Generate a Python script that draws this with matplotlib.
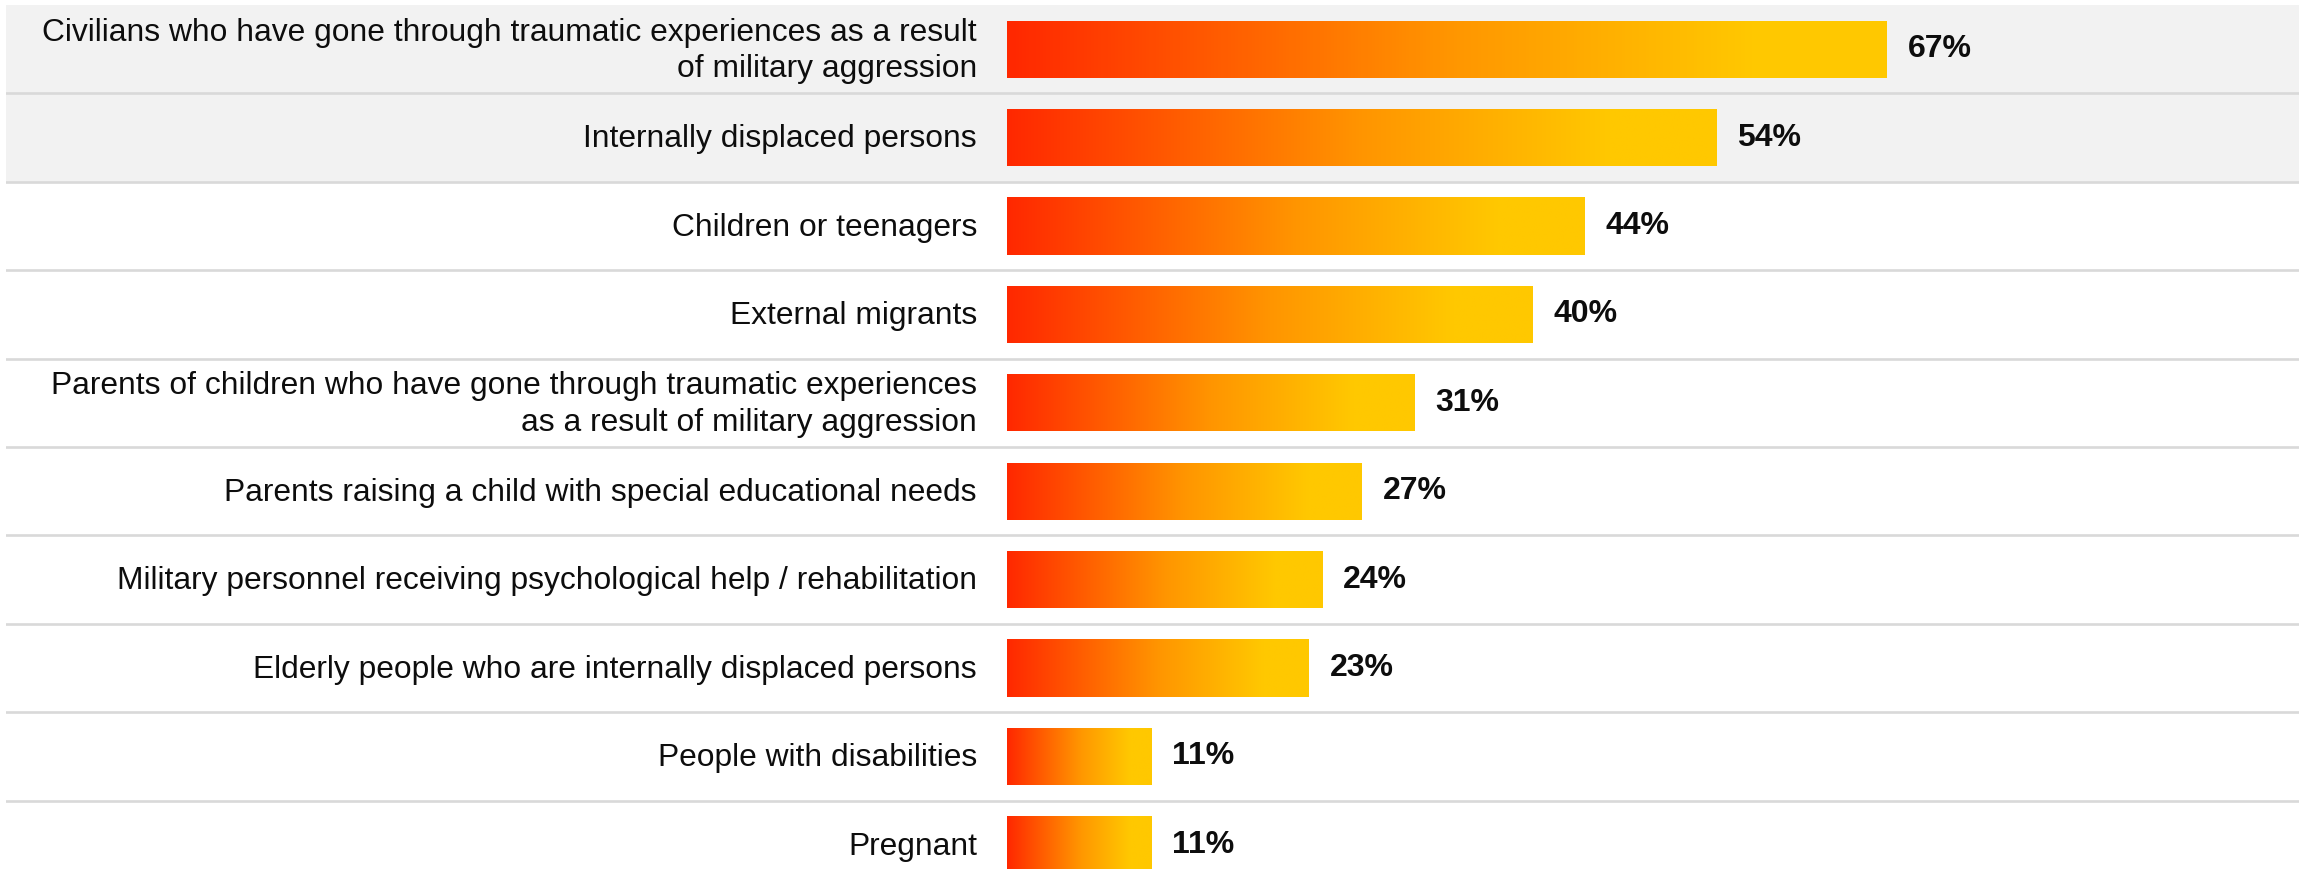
import matplotlib.pyplot as plt
import numpy as np
from matplotlib.colors import LinearSegmentedColormap

plt.rcParams["font.family"] = ["Liberation Sans", "DejaVu Sans"]

categories = [
    "Civilians who have gone through traumatic experiences as a result\nof military aggression",
    "Internally displaced persons",
    "Children or teenagers",
    "External migrants",
    "Parents of children who have gone through traumatic experiences\nas a result of military aggression",
    "Parents raising a child with special educational needs",
    "Military personnel receiving psychological help / rehabilitation",
    "Elderly people who are internally displaced persons",
    "People with disabilities",
    "Pregnant",
]
values = [67, 54, 44, 40, 31, 27, 24, 23, 11, 11]
highlighted = [0, 1]  # rows with the grey backdrop

W, H, DPI = 2305, 869, 100
ROW_PX = 88.4
PX_PER_PCT = 13.13
ZERO_PX = 1007
LEFT_PX, RIGHT_PX, TOP_PX = 6, 2299, 5

bar_cmap = LinearSegmentedColormap.from_list(
    "heat", [(0.0, "#ff2800"), (0.5, "#ff9500"), (0.85, "#ffc800"), (1.0, "#ffc800")]
)

fig = plt.figure(figsize=(W / DPI, H / DPI), dpi=DPI)
n = len(categories)
ax_h = n * ROW_PX
ax = fig.add_axes([
    LEFT_PX / W,
    (H - TOP_PX - ax_h) / H,
    (RIGHT_PX - LEFT_PX) / W,
    ax_h / H,
])
ax.set_xlim(-(ZERO_PX - LEFT_PX) / PX_PER_PCT, (RIGHT_PX - ZERO_PX) / PX_PER_PCT)
ax.set_ylim(n - 0.5, -0.5)
ax.axis("off")

for i in highlighted:
    ax.axhspan(i - 0.5, i + 0.5, color="#f2f2f2", zorder=0, lw=0)
for i in range(n - 1):
    ax.axhline(i + 0.5, color="#d9d9d9", lw=1.9, zorder=1)

y = np.arange(n)
bars = ax.barh(y, values, height=0.645, color="none", lw=0, zorder=2)

# each bar gets its own red -> yellow gradient, clipped to the bar rectangle
grad = np.linspace(0, 1, 256).reshape(1, -1)
for bar in bars:
    x0, y0 = bar.get_x(), bar.get_y()
    w, h = bar.get_width(), bar.get_height()
    im = ax.imshow(grad, cmap=bar_cmap, aspect="auto",
                   extent=(x0, x0 + w, y0 + h, y0), zorder=3, interpolation="bilinear")
    im.set_clip_path(bar)

label_x = -30 / PX_PER_PCT
gap = 21 / PX_PER_PCT
for i, (cat, v) in enumerate(zip(categories, values)):
    ax.text(label_x, i + 0.02, cat, ha="right", va="center", fontsize=22.85,
            color="#0d0d0d", linespacing=1.27)
    ax.text(v + gap, i, f"{v}%", ha="left", va="center", fontsize=23,
            fontweight="bold", color="#0d0d0d")

fig.savefig("out.png", dpi=DPI)
